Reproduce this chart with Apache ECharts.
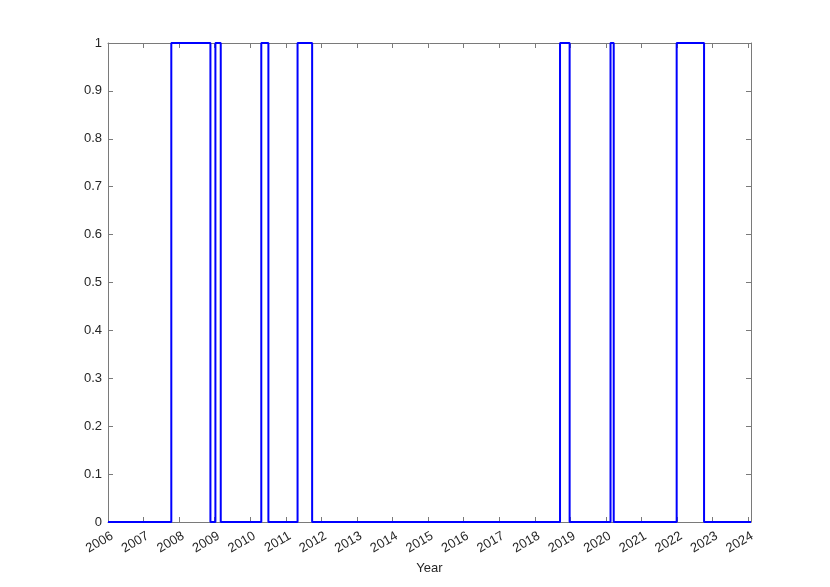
<!DOCTYPE html>
<html>
<head>
<meta charset="utf-8">
<script src="https://cdn.jsdelivr.net/npm/echarts@6/dist/echarts.min.js"></script>
<style>html,body{margin:0;padding:0;background:#fff;}#c{width:830px;height:587px;}</style>
</head>
<body>
<div id="c"></div>
<script>
// Change points (decimal year) and regime value holding until the next point
var changeYears = [2006.0, 2007.78, 2008.88, 2009.02, 2009.17, 2010.31, 2010.51, 2011.33, 2011.74, 2018.71, 2018.98, 2020.13, 2020.22, 2021.99, 2022.76, 2024.08];
var regimeValues = [0, 1, 0, 1, 0, 1, 0, 1, 0, 1, 0, 1, 0, 1, 0, 0];
var xTickYears = [2006, 2007, 2008, 2009, 2010, 2011, 2012, 2013, 2014, 2015, 2016, 2017, 2018, 2019, 2020, 2021, 2022, 2023, 2024];
var yTicks = [0, 0.1, 0.2, 0.3, 0.4, 0.5, 0.6, 0.7, 0.8, 0.9, 1];
var xLabel = 'Year';

var xMin = 2006, xMax = 2024.08;
var data = changeYears.map(function (x, i) { return [x, regimeValues[i]]; });
var font = 'Liberation Sans, Arial, Helvetica, sans-serif';
var textColor = '#262626';
var axisColor = '#7a7a7a';

var chart = echarts.init(document.getElementById('c'), null, { renderer: 'canvas' });
function xFmt(v) {
  var r = Math.round(v);
  return (Math.abs(v - r) < 1e-6 && xTickYears.indexOf(r) >= 0) ? String(r) : '';
}
function yFmt(v) {
  var r = Math.round(v * 10) / 10;
  return (Math.abs(v - r) < 1e-6 && yTicks.indexOf(r) >= 0) ? String(r) : '';
}
chart.setOption({
  backgroundColor: '#ffffff',
  animation: false,
  grid: { left: 108, right: 79, top: 43, bottom: 65, containLabel: false },
  xAxis: [{
    type: 'value', min: xMin, max: xMax, interval: 1, position: 'bottom',
    name: xLabel, nameLocation: 'middle', nameGap: 38,
    nameTextStyle: { color: textColor, fontSize: 13, fontFamily: font },
    axisLine: { show: true, onZero: false, lineStyle: { color: axisColor, width: 1 } },
    axisTick: { show: true, inside: true, length: 5, lineStyle: { color: axisColor } },
    axisLabel: { rotate: 30, margin: 8, align: 'right', verticalAlign: 'top', color: textColor, fontSize: 13, fontFamily: font, formatter: xFmt, showMaxLabel: false, showMinLabel: true, padding: [0, -1, 0, 0] },
    splitLine: { show: false }
  }, {
    type: 'value', min: xMin, max: xMax, interval: 1, position: 'top',
    axisLine: { show: true, onZero: false, lineStyle: { color: axisColor, width: 1 } },
    axisTick: { show: true, inside: true, length: 5, lineStyle: { color: axisColor } },
    axisLabel: { show: false },
    splitLine: { show: false }
  }],
  yAxis: [{
    type: 'value', min: 0, max: 1, interval: 0.1, position: 'left',
    axisLine: { show: true, onZero: false, lineStyle: { color: axisColor, width: 1 } },
    axisTick: { show: true, inside: true, length: 5, lineStyle: { color: axisColor } },
    axisLabel: { margin: 6, color: textColor, fontSize: 13, fontFamily: font, formatter: yFmt },
    splitLine: { show: false }
  }, {
    type: 'value', min: 0, max: 1, interval: 0.1, position: 'right',
    axisLine: { show: true, onZero: false, lineStyle: { color: axisColor, width: 1 } },
    axisTick: { show: true, inside: true, length: 5, lineStyle: { color: axisColor } },
    axisLabel: { show: false },
    splitLine: { show: false }
  }],
  series: [{
    type: 'line', xAxisIndex: 0, yAxisIndex: 0, step: 'end', data: data,
    showSymbol: false, clip: false,
    lineStyle: { color: '#0000ff', width: 2 }
  }]
});
</script>
</body>
</html>
